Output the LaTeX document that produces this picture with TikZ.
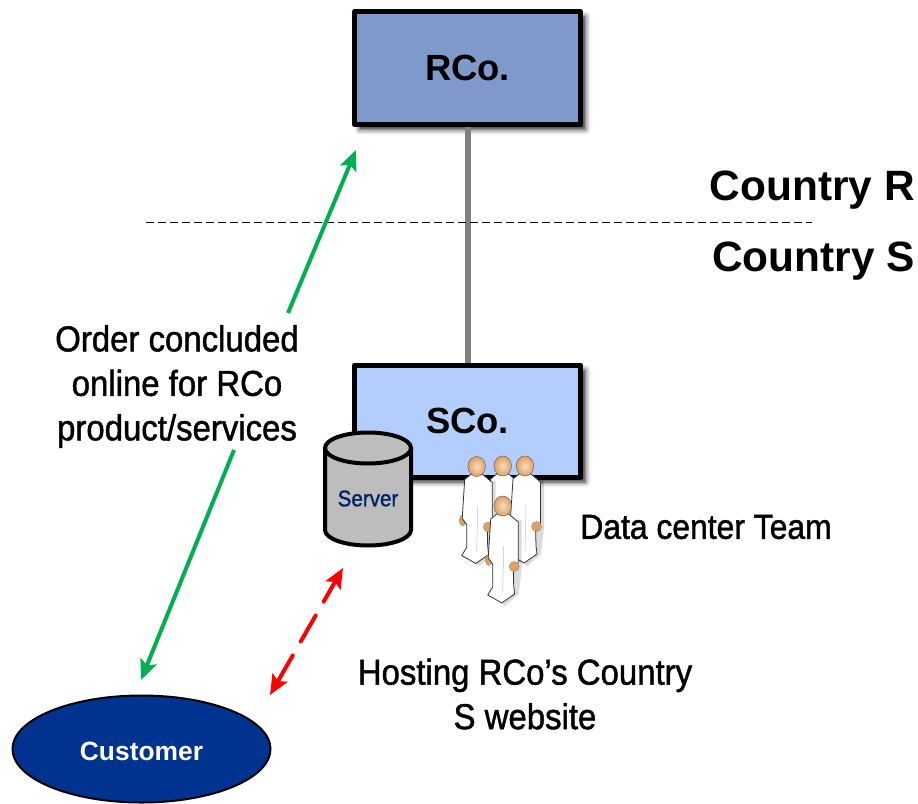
\documentclass[tikz,border=0pt]{standalone}
\usepackage{fontspec}
\setmainfont{Liberation Sans}
\newfontfamily\narrowf[FakeStretch=0.915,FakeBold=1.3]{Liberation Sans}
\usetikzlibrary{arrows.meta,shadows.blur,shapes.geometric}
\definecolor{rcoblue}{HTML}{7F9ACA}
\definecolor{scoblue}{HTML}{B3CEFD}
\definecolor{custblue}{HTML}{003390}
\definecolor{greenarrow}{HTML}{00B050}
\definecolor{skin}{HTML}{E0A060}
\definecolor{skinlight}{HTML}{F8DCC0}
\tikzset{
  x=1pt,y=-1pt,
  orgbox/.style={draw=black,line width=5pt,line join=round,inner sep=0pt,
    font=\bfseries\fontsize{36.4}{36}\selectfont,
    blur shadow={shadow xshift=5pt,shadow yshift=-5pt,shadow blur radius=5pt,shadow opacity=85}},
  countrylabel/.style={inner sep=0pt,font=\bfseries\fontsize{42.4}{42}\selectfont},
  narrowlabel/.style={inner sep=0pt,align=center,font=\narrowf\fontsize{36}{44.5}\selectfont},
  greenline/.style={draw=greenarrow,line width=4pt},
  redline/.style={draw=red,line width=4pt,line cap=round},
  gtip/.style={-{Stealth[length=20pt,width=17pt,inset=4pt]}},
  persona/.pic={
    \fill[black,opacity=.14] (-2,14) -- (19,14) -- (19,62) -- (16,88) -- (2,100) -- (-8,90) -- cycle;
    \fill[skin,draw=black!50,line width=.3pt] (-14,54) ellipse (3.5 and 5.5);
    \fill[white,draw=black!80,line width=.8pt,line join=round]
      (-6,8) -- (-12,13) -- (-14.5,52) -- (-10,58) -- (-10,81) -- (-15,89) -- (-7,93.5) -- (-1,97)
      -- (12,88) -- (11,80) -- (10.5,60) -- (15.5,57) -- (15.5,16) -- (6,8) -- cycle;
    \draw[black!25,line width=.5pt] (1,40) -- (0,85);
    \fill[skin,draw=black!50,line width=.3pt] (11.5,60.5) ellipse (5 and 5);
    \draw[red!80!black,line width=.7pt] (-3,8.5) -- (3,8.5);
    \shade[inner color=skinlight,outer color=skin,draw=black!60,line width=.5pt] (0,0) ellipse (8.8 and 10);
  },
}
\begin{document}
\begin{tikzpicture}
\useasboundingbox (0,0) rectangle (918,803);
\node[orgbox,fill=rcoblue,minimum width=226pt,minimum height=113pt] (rco) at (467.5,68) {RCo.};
\node[orgbox,fill=scoblue,minimum width=226pt,minimum height=112pt] (sco) at (467.5,421) {\raisebox{1pt}{SCo.}};
\draw[line width=6pt,draw=black!50] (rco.south) -- (sco.north);
\coordinate (dashL) at (146,222);
\coordinate (dashR) at (812,222);
\draw[line width=1pt,dash pattern=on 8pt off 4pt] (dashL) -- (dashR);
\node[countrylabel,anchor=east] (countryr) at (915,190) {Country R};
\node[countrylabel,anchor=east] (countrys) at (915,261) {Country S};

% server
\path[fill=black!26,draw=black,line width=4pt] (325,448) -- (325,530)
  arc[start angle=180,end angle=360,x radius=43,y radius=-15.5] -- (411,448)
  arc[start angle=0,end angle=180,x radius=43,y radius=-15.5] -- cycle;
\draw[line width=4pt] (325,448) arc[start angle=180,end angle=360,x radius=43,y radius=-15.5];
\node[inner sep=0pt,text=custblue!70!black,font=\narrowf\fontsize{22.5}{23}\selectfont] (server) at (368,498.5) {Server};

% people
\pic at (502.7,466) {persona};
\pic at (476.7,466.5) {persona};
\pic at (525,466) {persona};
\pic at (502.7,506) {persona};

\node[narrowlabel,font=\narrowf\fontsize{34.8}{44.5}\selectfont] (team) at (706,527) {Data center Team};
\node[narrowlabel] (hosting) at (525,694) {Hosting RCo’s Country\\S website};
\node[narrowlabel] (order) at (177,386.5) {Order concluded\\online for RCo\\product/services};

\node[ellipse,draw=black,line width=2pt,fill=custblue,text=white,inner sep=0pt,
  minimum width=258pt,minimum height=107pt,font=\bfseries\fontsize{26.4}{26}\selectfont] (customer) at (141.5,749) {\raisebox{-11pt}[0pt][0pt]{Customer}};

% connectors
\coordinate (orderUpStart) at (288,313);
\coordinate (orderUpEnd) at (356,150);
\coordinate (orderDownStart) at (234,450);
\coordinate (orderDownEnd) at (141,680);
\draw[greenline,gtip] (orderUpStart) -- (orderUpEnd);
\draw[greenline,gtip] (orderDownStart) -- (orderDownEnd);
\coordinate (redUp) at (343,568);
\coordinate (redDown) at (270,695);
\draw[redline,{Stealth[length=20pt,width=17pt,inset=4pt]}-{Stealth[length=20pt,width=17pt,inset=4pt]},dash pattern=on 30pt off 16pt,dash phase=6pt] (redUp) -- (redDown);
\end{tikzpicture}
\end{document}
